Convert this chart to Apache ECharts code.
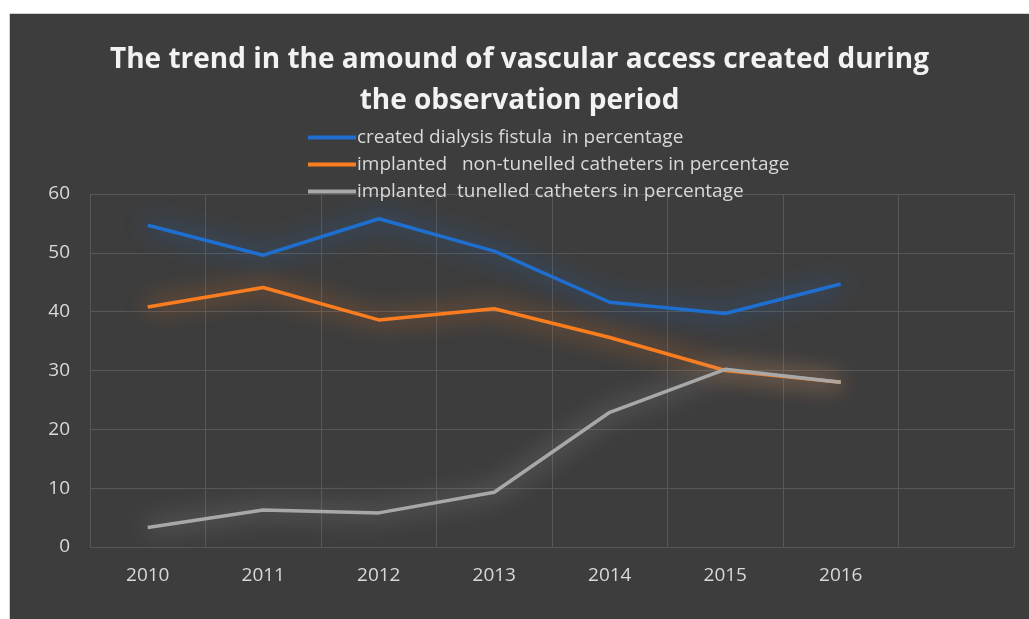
<!DOCTYPE html>
<html>
<head>
<meta charset="utf-8">
<script src="https://cdn.jsdelivr.net/npm/echarts@6/dist/echarts.min.js"></script>
<style>
  html, body { margin: 0; padding: 0; background: #ffffff; }
  #chart {
    position: absolute; left: 9px; top: 13px;
    width: 1020px; height: 606px;
    background: #3d3d3d;
    border-left: 1px solid #d0d0d0; border-top: 1px solid #d0d0d0;
    box-sizing: border-box;
  }
</style>
</head>
<body>
<div id="chart"></div>
<script>
// years (the last slot is empty, as in the original)
const years = ['2010', '2011', '2012', '2013', '2014', '2015', '2016', ''];
const fistula = [54.7, 49.6, 55.8, 50.3, 41.6, 39.7, 44.7];
const nonTunelled = [40.8, 44.1, 38.6, 40.5, 35.6, 30.0, 28.0];
const tunelled = [3.3, 6.3, 5.8, 9.3, 22.9, 30.2, 28.0];
const seriesNames = [
  'created dialysis fistula  in percentage',
  'implanted   non-tunelled catheters in percentage',
  'implanted  tunelled catheters in percentage'
];
const colors = ['#1f6fd0', '#fb7d1f', '#a8a8a8'];

const chart = echarts.init(document.getElementById('chart'));
const font = 'Open Sans';

function line(name, data, color) {
  return {
    name: name,
    type: 'line',
    data: data,
    showSymbol: false,
    color: color,
    lineStyle: {
      width: 3.5,
      color: color,
      shadowColor: color,
      shadowBlur: 24
    },
    emphasis: { disabled: true }
  };
}

chart.setOption({
  animation: false,
  textStyle: { fontFamily: font },
  title: {
    text: 'The trend in the amound of vascular access created during\nthe observation period',
    left: 'center',
    top: 21,
    textStyle: {
      color: '#f2f2f2',
      fontSize: 28,
      fontWeight: 'bold',
      lineHeight: 41,
      fontFamily: font
    }
  },
  legend: {
    orient: 'vertical',
    left: 293,
    top: 109,
    itemWidth: 48,
    itemHeight: 4,
    itemGap: 8,
    icon: 'rect',
    data: seriesNames,
    textStyle: { color: '#d9d9d9', fontSize: 19, padding: [0, 0, 0, -4] }
  },
  grid: { left: 80, right: 15, top: 180, bottom: 72 },
  xAxis: {
    type: 'category',
    data: years,
    boundaryGap: true,
    axisLine: { show: false },
    axisTick: { show: false },
    axisLabel: { color: '#d9d9d9', fontSize: 19, margin: 19 },
    splitLine: { show: true, lineStyle: { color: '#575757', width: 1 } }
  },
  yAxis: {
    type: 'value',
    min: 0,
    max: 60,
    interval: 10,
    axisLine: { show: false },
    axisTick: { show: false },
    axisLabel: { color: '#d9d9d9', fontSize: 19, margin: 20 },
    splitLine: { lineStyle: { color: '#575757', width: 1 } }
  },
  series: [
    line(seriesNames[0], fistula, colors[0]),
    line(seriesNames[1], nonTunelled, colors[1]),
    line(seriesNames[2], tunelled, colors[2])
  ]
});
</script>
</body>
</html>
